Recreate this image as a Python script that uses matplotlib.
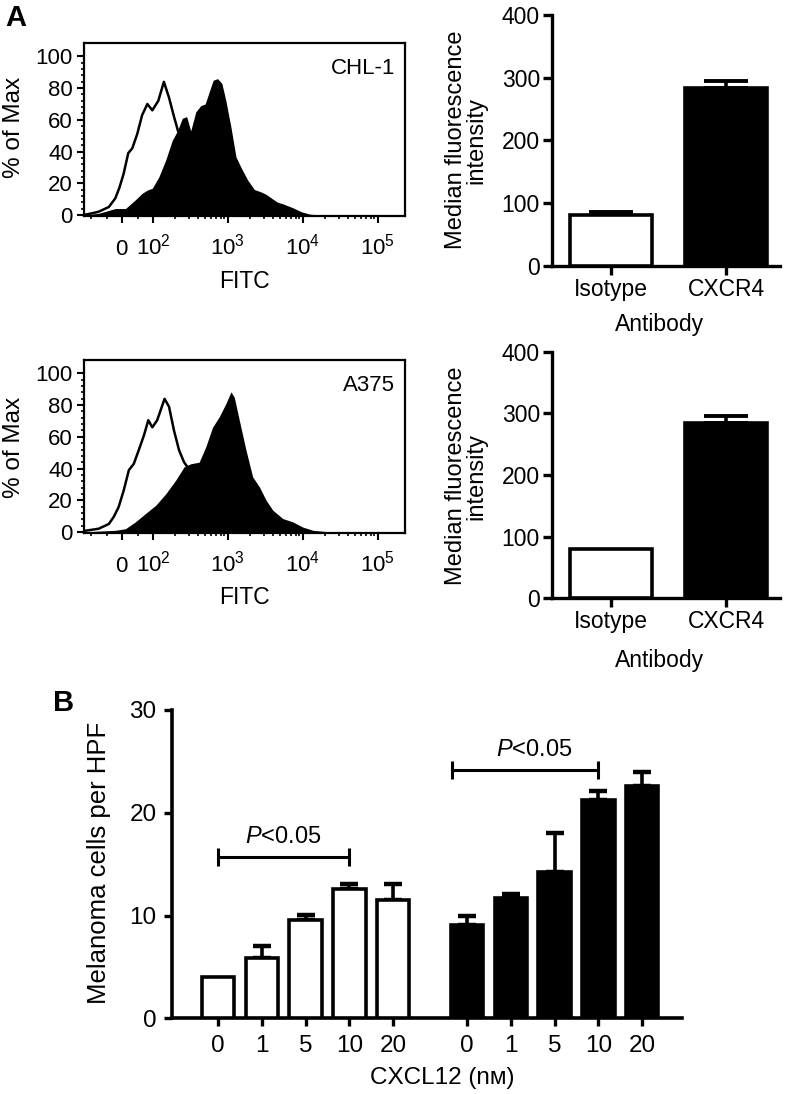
import numpy as np
import matplotlib
matplotlib.use('Agg')
import matplotlib.pyplot as plt

plt.rcParams['font.family'] = ['Liberation Sans', 'DejaVu Sans']
plt.rcParams['mathtext.fontset'] = 'custom'
plt.rcParams['mathtext.rm'] = 'Liberation Sans'
plt.rcParams['mathtext.it'] = 'Liberation Sans:italic'
plt.rcParams['mathtext.bf'] = 'Liberation Sans:bold'

# ---- histogram data (FITC value, % of max) ----
chl1_iso_x = [-125, -98, -76, -43, -22, -9, 5, 20, 33, 49, 65, 82, 98, 118, 140, 164, 191, 216,
              274, 373, 507, 690, 1040, 1700, 3200]
chl1_iso_y = [0, 1, 2, 5, 10.5, 17, 26, 39, 42, 51, 63, 70, 66, 72, 84, 74, 62, 53,
              45, 33, 20, 10, 4, 1, 0]
chl1_pos_x = [-125, -76, -22, 11, 43, 65, 82, 98, 120, 148, 181, 212, 247, 282, 319, 373, 435, 497,
              562, 636, 727, 831, 940, 1097, 1280, 1493, 1834, 2253, 2766, 3228, 3964, 4600, 5395,
              7346, 9500, 12280, 16000, 230000]
chl1_pos_y = [0, 1, 4, 4, 9.5, 13.6, 15.7, 16.8, 24, 34.6, 47, 53, 61, 62, 53, 65, 69, 70,
              77.5, 85, 86, 83, 72, 55.5, 36.7, 30, 22, 16, 14.5, 13, 10, 8, 7,
              4.5, 2, 0.5, 0, 0]

a375_iso_x = [-125, -76, -43, -27, -11, 5, 22, 38, 54, 71, 85, 98, 114, 143, 164, 191, 223, 260,
              288, 319, 413, 562, 765, 1155, 2140]
a375_iso_y = [0.6, 2, 5, 9.5, 15.8, 26, 39, 43, 51.6, 61, 70.5, 66, 70.5, 84, 79, 64, 51.6, 44,
              41, 38, 30, 18, 9, 3, 0]
a375_pos_x = [-125, -22, 11, 43, 76, 109, 148, 201, 260, 319, 413, 507, 623, 765, 940, 1097, 1216,
              1419, 1742, 2140, 2630, 3228, 3964, 5395, 7346, 10000, 13600, 22760, 230000]
a375_pos_y = [0, 1, 2, 6.3, 11.6, 16.8, 24, 32.6, 41, 43, 44, 53.7, 66, 72.6, 81, 88.4, 85,
              70.5, 51.6, 34.7, 28.4, 20, 13.7, 8.4, 6.3, 3, 1, 0, 0]

# ---- median fluorescence intensity ----
mfi_labels = ['Isotype', 'CXCR4']
chl1_mfi = [81, 283]
chl1_mfi_err = [4, 12]
a375_mfi = [80, 285]
a375_mfi_err = [0, 10]

# ---- migration assay ----
doses = ['0', '1', '5', '10', '20']
open_mean = [4.0, 5.9, 9.6, 12.55, 11.5]
open_err = [0, 1.1, 0.45, 0.5, 1.55]
filled_mean = [9.1, 11.7, 14.2, 21.2, 22.6]
filled_err = [0.9, 0.4, 3.8, 0.9, 1.4]

W, H = 789, 1094
fig = plt.figure(figsize=(W / 100, H / 100), dpi=100)


def rect(l, r, t, b):
    return [l / W, 1 - b / H, (r - l) / W, (b - t) / H]


def ftext(x, y, s, **kw):
    fig.text(x / W, 1 - y / H, s, ha='center', va='center', **kw)


def draw_hist(ax, iso_x, iso_y, pos_x, pos_y, name):
    ax.plot(iso_x, iso_y, color='black', lw=1.8, zorder=2)
    ax.fill_between(pos_x, pos_y, 0, color='black', lw=0, zorder=3)
    ax.set_xscale('symlog', linthresh=100, linscale=0.37)
    ax.set_xlim(-125, 2.3e5)
    ax.set_ylim(-0.7, 108.5)
    ax.set_xticks([0, 1e2, 1e3, 1e4, 1e5])
    ax.set_xticklabels([r'$0$', r'$10^2$', r'$10^3$', r'$10^4$', r'$10^5$'])
    minors = [-100, -50, 50] + [m * 10 ** k for k in (2, 3, 4) for m in range(2, 10)]
    ax.set_xticks(minors, minor=True)
    ax.set_yticks(range(0, 101, 20))
    ax.set_yticks(range(0, 101, 4), minor=True)
    ax.tick_params(which='major', direction='out', length=5, width=1.5, labelsize=16, pad=3)
    ax.tick_params(which='minor', direction='out', length=2.5, width=1.2)
    # put the labels on one baseline, as in the flow software output
    ax.tick_params(axis='x', which='major', pad=23)
    for t in ax.get_xticklabels():
        t.set_verticalalignment('baseline')
    for s in ax.spines.values():
        s.set_linewidth(1.6)
    ax.text(0.969, 0.855, name, transform=ax.transAxes, ha='right', va='center', fontsize=16)


def draw_mfi(ax, vals, errs):
    pos = np.arange(len(vals))
    for p, v, e in zip(pos, vals, errs):
        if e > 0:
            ax.errorbar(p, v, yerr=[[0], [e]], fmt='none', ecolor='black', elinewidth=2.6,
                        capsize=16, capthick=2.8, zorder=2)
    ax.bar(pos, vals, width=0.71, color=['white', 'black'], edgecolor='black', lw=2.6, zorder=3)
    ax.set_xlim(-0.516, 1.47)
    ax.set_ylim(0, 400)
    ax.set_yticks([0, 100, 200, 300, 400])
    ax.set_xticks(pos)
    ax.set_xticklabels(mfi_labels)
    for side in ('top', 'right'):
        ax.spines[side].set_visible(False)
    for side in ('left', 'bottom'):
        ax.spines[side].set_linewidth(2.4)
    ax.tick_params(direction='out', length=6.5, width=2.4, labelsize=16.5, pad=2)


# panel A histograms
ax1 = fig.add_axes(rect(84, 405, 43, 216))
draw_hist(ax1, chl1_iso_x, chl1_iso_y, chl1_pos_x, chl1_pos_y, 'CHL-1')
ax2 = fig.add_axes(rect(84, 405, 360, 533))
draw_hist(ax2, a375_iso_x, a375_iso_y, a375_pos_x, a375_pos_y, 'A375')

for yc, yf in ((127, 282), (447, 597)):
    ftext(14, yc, '% of Max', rotation=90, fontsize=17.5)
    ftext(244, yf, 'FITC', fontsize=16.5)

# panel A bar charts
ax3 = fig.add_axes(rect(551.7, 780, 15, 265.7))
draw_mfi(ax3, chl1_mfi, chl1_mfi_err)
ax4 = fig.add_axes(rect(551.7, 780, 351.7, 598.3))
draw_mfi(ax4, a375_mfi, a375_mfi_err)

for yc, ya in ((140, 325), (476, 660)):
    ftext(466, yc, 'Median fluorescence\nintensity', rotation=90, fontsize=17, linespacing=0.88)
    ftext(660, ya, 'Antibody', fontsize=16.5)

# panel B
ax5 = fig.add_axes(rect(171.7, 682, 710, 1018.3))
pos1 = np.arange(len(doses))
pos2 = pos1 + 5.69
for p, v, e in zip(pos1, open_mean, open_err):
    if e > 0:
        ax5.errorbar(p, v, yerr=[[0], [e]], fmt='none', ecolor='black', elinewidth=2.6,
                     capsize=6.5, capthick=3.2, zorder=2)
for p, v, e in zip(pos2, filled_mean, filled_err):
    ax5.errorbar(p, v, yerr=[[0], [e]], fmt='none', ecolor='black', elinewidth=2.6,
                 capsize=6.5, capthick=3.2, zorder=2)
ax5.bar(pos1, open_mean, width=0.74, color='white', edgecolor='black', lw=2.6, zorder=3)
ax5.bar(pos2, filled_mean, width=0.74, color='black', edgecolor='black', lw=2.6, zorder=3)

# significance brackets
ax5.plot([pos1[0], pos1[3]], [15.7, 15.7], color='black', lw=2.2, marker='|',
         markersize=13, mew=2.2, zorder=4)
ax5.plot([pos2[0] - 0.34, pos2[3]], [24.2, 24.2], color='black', lw=2.2, marker='|',
         markersize=13, mew=2.2, zorder=4)
ax5.text((pos1[0] + pos1[3]) / 2, 17.6, r'$P$<0.05', ha='center', va='center', fontsize=17)
ax5.text((pos2[0] - 0.34 + pos2[3]) / 2 + 0.2, 26.1, r'$P$<0.05', ha='center', va='center',
         fontsize=17)

ax5.set_xlim(-1.06, 10.6)
ax5.set_ylim(0, 30)
ax5.set_yticks([0, 10, 20, 30])
ax5.set_xticks(np.concatenate([pos1, pos2]))
ax5.set_xticklabels(doses + doses)
for side in ('top', 'right'):
    ax5.spines[side].set_visible(False)
for side in ('left', 'bottom'):
    ax5.spines[side].set_linewidth(2.6)
ax5.tick_params(direction='out', length=6, width=2.4, labelsize=17.5)
ax5.tick_params(axis='y', pad=5)
ax5.tick_params(axis='x', pad=6)

ftext(99, 863, 'Melanoma cells per HPF', rotation=90, fontsize=18.5)
ftext(442, 1078, 'CXCL12 (n\u1d0d)', fontsize=17.5)

# panel letters
ftext(16, 18, 'A', fontsize=21, fontweight='bold')
ftext(64, 703, 'B', fontsize=21, fontweight='bold')

fig.savefig('out.png', dpi=100)
